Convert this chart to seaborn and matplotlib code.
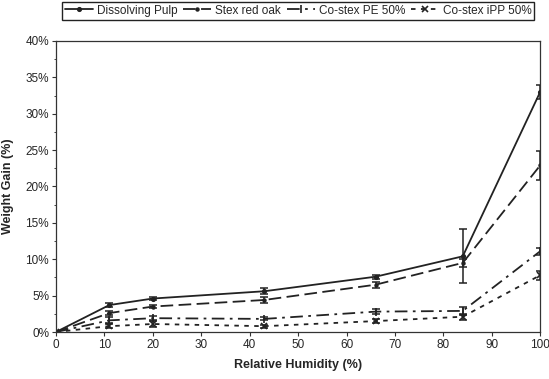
import pandas as pd
import numpy as np
import matplotlib
matplotlib.use('Agg')
import matplotlib.pyplot as plt
import seaborn as sns
from matplotlib.ticker import MultipleLocator, PercentFormatter

humidity = [0, 11, 20, 43, 66, 84, 100]

pulp = [0.0, 3.7, 4.6, 5.6, 7.6, 10.4, 33.0]
pulp_err = [0.0, 0.3, 0.2, 0.4, 0.3, 3.7, 1.0]
oak = [0.0, 2.6, 3.5, 4.4, 6.5, 9.5, 22.9]
oak_err = [0.0, 0.3, 0.2, 0.4, 0.4, 0.6, 2.0]
pe = [0.0, 1.6, 1.9, 1.8, 2.8, 2.9, 11.1]
pe_err = [0.0, 0.4, 0.3, 0.2, 0.3, 0.5, 0.5]
ipp = [0.0, 0.8, 1.1, 0.8, 1.5, 2.1, 7.8]
ipp_err = [0.0, 0.3, 0.4, 0.2, 0.3, 0.4, 0.6]

names = ['Dissolving Pulp', 'Stex red oak', 'Co-stex PE 50%', 'Co-stex iPP 50%']

rows = []
for name, vals, errs in zip(names, [pulp, oak, pe, ipp], [pulp_err, oak_err, pe_err, ipp_err]):
    for h, v, e in zip(humidity, vals, errs):
        rows.append({'rh': h, 'gain': v, 'err': e, 'sample': name})
df = pd.DataFrame(rows)

sns.set_style('ticks')
plt.rcParams['font.family'] = ['Liberation Sans', 'DejaVu Sans']

fig = plt.figure(figsize=(5.49, 3.79), dpi=100)
ax = fig.add_axes([0.102, 0.124, 0.882, 0.768])

styles = {
    'Dissolving Pulp': dict(ls='-', marker='.', ms=5),
    'Stex red oak': dict(ls=(0, (7, 3)), marker='.', ms=4),
    'Co-stex PE 50%': dict(ls=(0, (7, 3, 1.5, 3)), marker='|', ms=6),
    'Co-stex iPP 50%': dict(ls=(0, (2.5, 3)), marker='x', ms=4),
}
col = '#222222'

leg_handles = []
for name in names:
    sub = df[df['sample'] == name]
    st = styles[name]
    sns.lineplot(data=sub, x='rh', y='gain', ax=ax, color=col, lw=1.3,
                 linestyle=st['ls'], marker=st['marker'], markersize=st['ms'],
                 markeredgecolor=col, markeredgewidth=1.2, legend=False)
    leg_handles.append(ax.lines[-1])
    ax.errorbar(sub['rh'], sub['gain'], yerr=sub['err'], fmt='none', ecolor=col,
                elinewidth=1.1, capsize=3, capthick=1.1)

ax.set_xlim(0, 100)
ax.set_ylim(0, 40)
ax.xaxis.set_major_locator(MultipleLocator(10))
ax.yaxis.set_major_locator(MultipleLocator(5))
ax.yaxis.set_minor_locator(MultipleLocator(2.5))
ax.yaxis.set_major_formatter(PercentFormatter(decimals=0))
ax.tick_params(axis='both', labelsize=8.5, length=3, width=0.8, color='#333333', pad=2)
ax.tick_params(axis='y', which='minor', length=1.5)
for s in ax.spines.values():
    s.set_linewidth(0.9)
    s.set_color('#333333')
ax.set_xlabel('Relative Humidity (%)', fontsize=9, fontweight='bold', labelpad=6)
ax.set_ylabel('Weight Gain (%)', fontsize=9, fontweight='bold', labelpad=8)

fig.legend(handles=leg_handles, labels=names, loc='center', bbox_to_anchor=(0.543, 0.972),
           ncol=4, fontsize=8.5, frameon=True, fancybox=False, edgecolor='#222222',
           handlelength=2.4, handletextpad=0.3, columnspacing=0.5, borderpad=0.25,
           framealpha=1)

fig.savefig('out.png', dpi=100)
